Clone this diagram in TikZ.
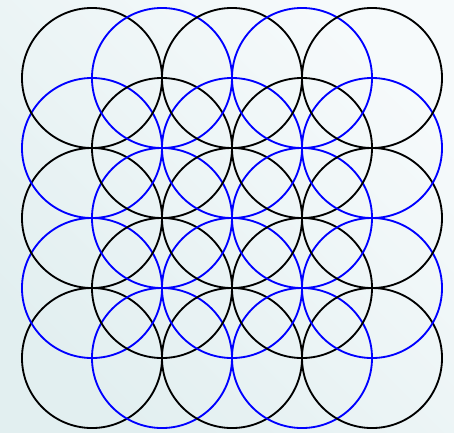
\documentclass[tikz,border=0pt]{standalone}
\definecolor{bglow}{RGB}{226,239,240}
\definecolor{bghigh}{RGB}{246,250,251}
\begin{document}
\begin{tikzpicture}
  \useasboundingbox (-1.314,-1.057) rectangle (5.171,5.114);
  \shade[top color=bghigh,bottom color=bglow,shading angle=-45]
    (-1.314,-1.057) rectangle (5.171,5.114);
  \foreach \i in {0,...,4}
    \foreach \j in {0,...,4}{
      \pgfmathtruncatemacro\k{mod(\i+\j,2)}
      \ifnum\k=0 \draw[line width=.75pt] (\i,\j) circle (1);
      \else \draw[line width=.75pt,blue] (\i,\j) circle (1);
      \fi}
\end{tikzpicture}
\end{document}
